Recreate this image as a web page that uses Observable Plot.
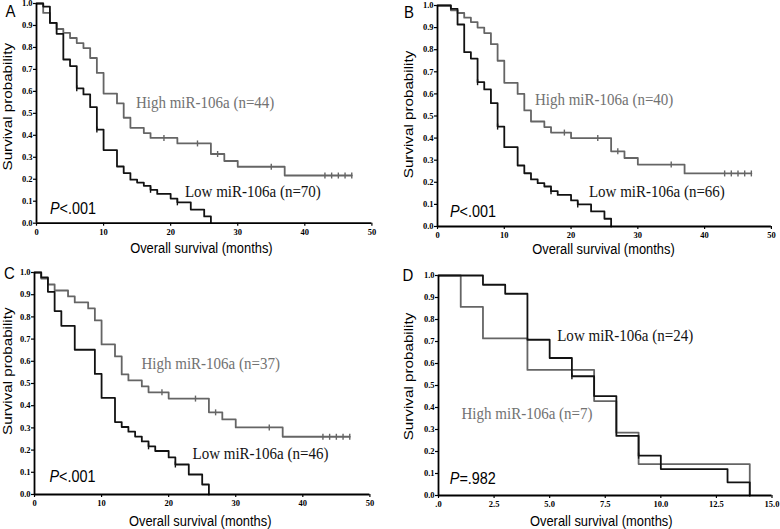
<!DOCTYPE html>
<html>
<head>
<meta charset="utf-8">
<script src="https://cdn.jsdelivr.net/npm/d3@7"></script>
<script src="https://cdn.jsdelivr.net/npm/@observablehq/plot@0.6"></script>
<style>
  html, body { margin: 0; padding: 0; background: #fff; }
  #fig { position: relative; width: 780px; height: 529px; background: #fff; overflow: hidden; }
  #fig svg { position: absolute; }
  #fig g.sq-ann text, #fig g[aria-label$="tick label"] text { font-family: "Liberation Serif", "Times New Roman", serif !important; }
  #fig g.sq-p text, #fig g.sq-xt text, #fig g.sq-yt text, #fig g.sq-let text { font-family: "Liberation Sans", Arial, sans-serif !important; }
</style>
</head>
<body>
<div id="fig"></div>
<script>
// ---------- Data ----------
// Panel A
const A_high_t = [0,1,2,3,4,5,6,7,8,9,10,12,13,14,16,17,21,26,28,30,37,47];
const A_high_s = [1,.957,.911,.884,.866,.843,.82,.797,.752,.684,.59,.545,.48,.434,.41,.388,.363,.315,.283,.257,.217,.217];
const A_high_cens = [19,24,27,35,43,44,45,46,47];
const A_low_t = [0,1,2,3,4,5,6,7,8,9,10,12,13,14,15,16,17,18,20,21,23,25,26];
const A_low_s = [1,.986,.912,.862,.745,.715,.614,.586,.528,.426,.333,.258,.228,.198,.185,.17,.152,.133,.112,.095,.062,.031,0];
const A_low_cens = [6,9,17,21];
// Panel B
const B_high_t = [0,2,3,4,5,6,7,8,9,10,12,13,14,16,17,20,26,28,30,37,47];
const B_high_s = [1,.978,.966,.945,.925,.9,.875,.825,.75,.65,.6,.525,.475,.45,.425,.4,.34,.31,.28,.24,.24];
const B_high_cens = [19,24,27,35,43,44,45,46,47];
const B_low_t = [0,2,3,4,5,6,7,8,9,10,12,13,14,15,16,17,18,20,21,23,25,26];
const B_low_s = [1,.985,.914,.789,.76,.653,.62,.558,.452,.359,.276,.241,.213,.196,.181,.16,.143,.118,.1,.068,.035,0];
const B_low_cens = [6,9,17,21];
// Panel C
const C_high_t = [0,1,2,3,5,6,8,9,10,12,13,14,16,17,20,26,28,30,37,47];
const C_high_s = [1,.973,.946,.919,.892,.865,.838,.784,.676,.622,.541,.514,.487,.46,.432,.37,.338,.302,.26,.26];
const C_high_cens = [19,24,27,35,43,44,45,46,47];
const C_low_t = [0,1,2,3,4,6,9,10,12,13,14,15,16,17,18,20,21,23,25,26];
const C_low_s = [1,.978,.913,.826,.76,.652,.543,.435,.326,.304,.283,.261,.239,.217,.196,.167,.135,.09,.045,0];
const C_low_cens = [17,21];
// Panel D
const D_high_t = [0,1,2,4,7,8,9,14];
const D_high_s = [1,.857,.714,.571,.429,.286,.143,0];
const D_high_cens = [];
const D_low_t = [0,2,3,4,5,6,7,8,9,10,13,14];
const D_low_s = [1,.958,.917,.708,.625,.542,.452,.271,.181,.12,.06,0];
const D_low_cens = [6,9];

// Tick labels
const xTicksMonths = [0,10,20,30,40,50];
const xLabelsMonths = ["0","10","20","30","40","50"];
const xTicksD = [0,2.5,5,7.5,10,12.5,15];
const xLabelsD = [".0","2.5","5.0","7.5","10.0","12.5","15.0"];
const yTicks = [0,.1,.2,.3,.4,.5,.6,.7,.8,.9,1];
const yLabels = ["0.0","0.1","0.2","0.3","0.4","0.5","0.6","0.7","0.8","0.9","1.0"];

// Texts
const panelLetters = ["A","B","C","D"];
const highLabels = ["High miR-106a (n=44)","High miR-106a (n=40)","High miR-106a (n=37)","High miR-106a (n=7)"];
const lowLabels = ["Low miR-106a (n=70)","Low miR-106a (n=66)","Low miR-106a (n=46)","Low miR-106a (n=24)"];
const pValues = ["<.001","<.001","<.001","=.982"];
const xTitle = "Overall survival (months)";
const yTitle = "Survival probability";

// ---------- Helpers ----------
const GRAY = "#656565", GRAYTXT = "#727272", BLACK = "#121212";
const steps = (t, s) => t.map((d, i) => ({t: d, s: s[i]}));
const survAt = (t, s, x) => { let v = s[0]; for (let i = 0; i < t.length; i++) if (t[i] <= x) v = s[i]; return v; };
const censPts = (t, s, c) => c.map(x => ({t: x, s: survAt(t, s, x)}));
const vtick = { draw(ctx, size) { const r = Math.sqrt(size / Math.PI); ctx.moveTo(0, -r); ctx.lineTo(0, r); } };

const ML = 45, MR = 25, MT = 15, MB = 40;
const fig = document.getElementById("fig");
const SERIF = "Liberation Serif", SANS = "Liberation Sans";

function panel(o) {
  const [x0, y0, x1, y1] = o.frame;
  const W = (x1 - x0) + ML + MR, H = (y1 - y0) + MT + MB;
  const tl = {frameAnchor: "top-left", textAnchor: "start", lineAnchor: "middle"};
  const svg = Plot.plot({
    width: W, height: H,
    marginLeft: ML, marginRight: MR, marginTop: MT, marginBottom: MB,
    x: {domain: o.xDomain},
    y: {domain: [0, 1]},
    style: {background: "transparent", overflow: "visible"},
    marks: [
      Plot.axisX({ticks: o.xTicks, tickFormat: d => o.xLabels[o.xTicks.indexOf(d)], tickSize: 3, tickPadding: 2.5,
        fontSize: 8.5, fontWeight: "bold", fontFamily: SERIF, strokeWidth: 1.2, label: null}),
      Plot.axisY({ticks: yTicks, tickFormat: d => yLabels[yTicks.indexOf(d)], tickSize: 3, tickPadding: 1,
        fontSize: 8.5, fontWeight: "bold", fontFamily: SERIF, strokeWidth: 1.2, label: null}),
      Plot.line(steps(o.high[0], o.high[1]), {x: "t", y: "s", curve: "step-after", stroke: GRAY, strokeWidth: 1.8}),
      Plot.dot(censPts(o.high[0], o.high[1], o.high[2]), {x: "t", y: "s", symbol: vtick, r: 3, fill: "none", stroke: GRAY, strokeWidth: 1.4}),
      Plot.line(steps(o.low[0], o.low[1]), {x: "t", y: "s", curve: "step-after", stroke: BLACK, strokeWidth: 1.8}),
      Plot.dot(censPts(o.low[0], o.low[1], o.low[2]), {x: "t", y: "s", symbol: vtick, r: 3, fill: "none", stroke: BLACK, strokeWidth: 1.4}),
      Plot.ruleX([o.xDomain[0]], {stroke: "#000", strokeWidth: 1.8}),
      Plot.ruleY([0], {stroke: "#000", strokeWidth: 1.8}),
      Plot.text([o.hiText], {...tl, text: d => d, dx: o.hi[0], dy: o.hi[1], fill: GRAYTXT, fontSize: 16.5, fontFamily: SERIF, className: "sq-ann"}),
      Plot.text([o.loText], {...tl, text: d => d, dx: o.lo[0], dy: o.lo[1], fill: BLACK, fontSize: 16.5, fontFamily: SERIF, className: "sq-ann"}),
      Plot.text([o.pText], {...tl, text: d => "P" + d, dx: o.p[0], dy: o.p[1], fill: "#000", fontSize: 16, fontFamily: SANS, className: "sq-p"}),
      Plot.text([o.letter], {frameAnchor: "top-left", textAnchor: "middle", lineAnchor: "middle", text: d => d, dx: o.let[0], dy: o.let[1], fill: "#000", fontSize: 17, fontFamily: SANS, className: "sq-let"}),
      Plot.text([xTitle], {frameAnchor: "bottom", textAnchor: "middle", lineAnchor: "middle", text: d => d, dx: o.xt[0], dy: o.xt[1], fill: "#000", fontSize: 15, fontFamily: SANS, className: "sq-xt"}),
      Plot.text([yTitle], {frameAnchor: "left", textAnchor: "middle", lineAnchor: "middle", rotate: -90, text: d => d, dx: o.yt[0], dy: o.yt[1], fill: "#000", fontSize: 13, fontFamily: SANS, className: "sq-yt"})
    ]
  });
  svg.style.left = (x0 - ML) + "px";
  svg.style.top = (y0 - MT) + "px";
  fig.appendChild(svg);
  return svg;
}

const panels = [
  panel({frame: [35.6, 3.3, 371, 223], xDomain: [0, 50], xTicks: xTicksMonths, xLabels: xLabelsMonths,
    high: [A_high_t, A_high_s, A_high_cens], low: [A_low_t, A_low_s, A_low_cens],
    hiText: highLabels[0], loText: lowLabels[0], pText: pValues[0], letter: panelLetters[0],
    hi: [99.4, 99.4], lo: [148.4, 188.7], p: [13.4, 205.7], let: [-26, 8], xt: [-2.8, 25], yt: [-28.6, -6.6]}),
  panel({frame: [436.6, 5, 770.5, 226], xDomain: [0, 50], xTicks: xTicksMonths, xLabels: xLabelsMonths,
    high: [B_high_t, B_high_s, B_high_cens], low: [B_low_t, B_low_s, B_low_cens],
    hiText: highLabels[1], loText: lowLabels[1], pText: pValues[1], letter: panelLetters[1],
    hi: [97.4, 94], lo: [151.4, 186], p: [12.4, 206], let: [-28.6, 7], xt: [-1, 23], yt: [-28.6, -1.5]}),
  panel({frame: [34, 272.3, 369.4, 494.3], xDomain: [0, 50], xTicks: xTicksMonths, xLabels: xLabelsMonths,
    high: [C_high_t, C_high_s, C_high_cens], low: [C_low_t, C_low_s, C_low_cens],
    hiText: highLabels[2], loText: lowLabels[2], pText: pValues[2], letter: panelLetters[2],
    hi: [107, 91.7], lo: [158, 181.7], p: [15, 204.7], let: [-25, 0.7], xt: [-2, 26.7], yt: [-27, -12.3]}),
  panel({frame: [438, 275, 771.5, 495], xDomain: [0, 15], xTicks: xTicksD, xLabels: xLabelsD,
    high: [D_high_t, D_high_s, D_high_cens], low: [D_low_t, D_low_s, D_low_cens],
    hiText: highLabels[3], loText: lowLabels[3], pText: pValues[3], letter: panelLetters[3],
    hi: [23, 138.3], lo: [118.7, 60], p: [11.3, 203.3], let: [-30.5, 0], xt: [-4, 26], yt: [-30, -9]})
];

// Italic "P" in the p-value labels
panels.forEach(svg => svg.querySelectorAll("g.sq-p text").forEach(el => {
  const t = el.textContent;
  el.textContent = "";
  const ns = "http://www.w3.org/2000/svg";
  const a = document.createElementNS(ns, "tspan"); a.setAttribute("font-style", "italic"); a.textContent = t[0];
  const b = document.createElementNS(ns, "tspan"); b.textContent = t.slice(1);
  el.appendChild(a); el.appendChild(b);
}));
// Reproduce the reference's anisotropic text scaling
const squeeze = (sel, f) => panels.forEach(svg => svg.querySelectorAll(sel).forEach(el => {
  const L = el.getComputedTextLength();
  if (L > 0) { el.setAttribute("textLength", (L * f).toFixed(2)); el.setAttribute("lengthAdjust", "spacingAndGlyphs"); }
}));
const run = () => {
  squeeze("g.sq-ann text", 0.91);
  squeeze("g.sq-xt text", 0.86);
  squeeze("g.sq-yt text", 1.17);
  squeeze("g.sq-p text", 0.9);
  squeeze("g.sq-let text", 0.88);
};
if (document.fonts && document.fonts.ready) { document.fonts.ready.then(run); } else { run(); }
</script>
</body>
</html>
